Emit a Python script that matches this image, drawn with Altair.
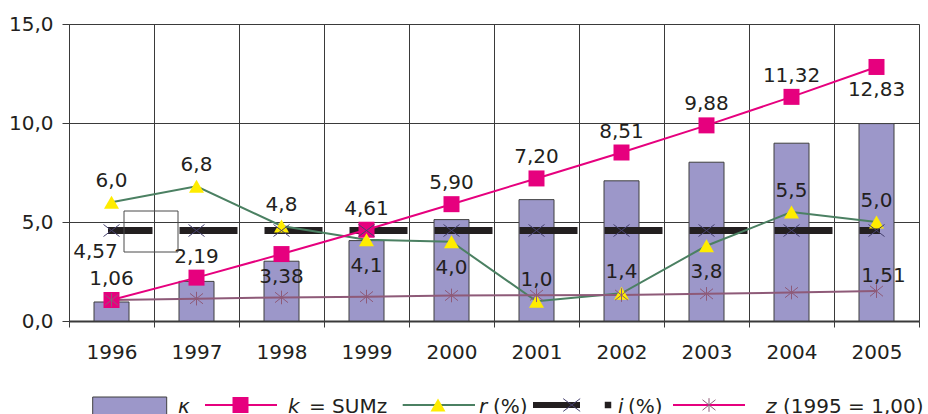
import altair as alt
import pandas as pd

# ---------------- data ----------------
years = [1996, 1997, 1998, 1999, 2000, 2001, 2002, 2003, 2004, 2005]
kappa = [0.96, 2.00, 3.02, 4.06, 5.12, 6.13, 7.08, 8.02, 8.98, 9.97]
k_sum = [1.06, 2.19, 3.38, 4.61, 5.90, 7.20, 8.51, 9.88, 11.32, 12.83]
r_pct = [6.0, 6.8, 4.8, 4.1, 4.0, 1.0, 1.4, 3.8, 5.5, 5.0]
i_pct = [4.57, 4.57, 4.57, 4.57, 4.57, 4.57, 4.57, 4.57, 4.57, 4.57]
z_idx = [1.06, 1.13, 1.19, 1.23, 1.29, 1.30, 1.31, 1.37, 1.44, 1.51]
k_side = ["above", "above", "below", "above", "above", "above", "above", "above", "above", "below"]
r_side = ["above", "above", "above", "below", "below", "above", "above", "below", "above", "above"]
y_ticks = [0, 5, 10, 15]

df = pd.DataFrame({
    "year": years, "kappa": kappa, "k": k_sum, "r": r_pct,
    "i": i_pct, "z": z_idx, "k_side": k_side, "r_side": r_side,
})

# ---------------- style ----------------
FONT = "DejaVu Sans"
FS = 20
TXT = "#231f20"
GRID = "#3a3a3a"
BG = "#c8c5e2"
BAR = "#9c97c9"
MAGENTA = "#e6007e"
GREEN = "#4b8062"
YELLOW = "#ffec00"
MAUVE = "#8e5a78"
XCOL = "#45406e"
BLACK = "#231f20"
X_PATH = "M-1,-0.75L1,0.75M-1,0.75L1,-0.75"
STAR_PATH = "M-1,-0.8L1,0.8M-1,0.8L1,-0.8M0,-1.05L0,1.05"

x_enc = alt.X(
    "year:O",
    scale=alt.Scale(paddingInner=0, paddingOuter=0),
    axis=alt.Axis(
        title=None, labelAngle=0, tickBand="extent", grid=True,
        gridColor=GRID, gridOpacity=1, gridWidth=1,
        domainColor=GRID, domainWidth=2, tickColor=GRID, tickSize=6,
        labelFont=FONT, labelFontSize=FS, labelColor=TXT, labelPadding=15,
    ),
)


def y_enc(field):
    return alt.Y(
        f"{field}:Q",
        scale=alt.Scale(domain=[0, 15], nice=False, zero=True),
        axis=alt.Axis(
            title=None, values=y_ticks, grid=True, gridColor=GRID, gridOpacity=1,
            domainColor=GRID, domainWidth=1, tickColor=GRID, tickSize=7,
            labelFont=FONT, labelFontSize=FS, labelColor=TXT, labelPadding=9,
            labelExpr="replace(format(datum.value, '.1f'), '.', ',')",
        ),
    )


base = alt.Chart(df)

bars = base.mark_bar(size=35, fill=BAR, stroke="#3f3f3f", strokeWidth=1).encode(
    x=x_enc, y=y_enc("kappa"))

i_line = base.mark_line(
    color=BLACK, strokeWidth=7, strokeDash=[51, 34], strokeDashOffset=13.5,
    strokeCap="square").encode(x=x_enc, y=y_enc("i"))

r_line = base.mark_line(color=GREEN, strokeWidth=2).encode(x=x_enc, y=y_enc("r"))
z_line = base.mark_line(color=MAUVE, strokeWidth=2).encode(x=x_enc, y=y_enc("z"))
k_line = base.mark_line(color=MAGENTA, strokeWidth=2).encode(x=x_enc, y=y_enc("k"))

k_pts = base.mark_point(shape="square", filled=True, size=256, color=MAGENTA,
                        opacity=1).encode(x=x_enc, y=y_enc("k"))
r_pts = base.mark_point(shape="triangle-up", filled=True, size=225, color=YELLOW,
                        opacity=1).encode(x=x_enc, y=y_enc("r"))
i_pts = base.mark_point(shape=X_PATH, filled=False, size=256, stroke=XCOL,
                        strokeWidth=1, opacity=1).encode(x=x_enc, y=y_enc("i"))
z_pts = base.mark_point(shape=STAR_PATH, filled=False, size=169, stroke=MAUVE,
                        strokeWidth=1, opacity=1).encode(x=x_enc, y=y_enc("z"))

txt_kw = dict(font=FONT, fontSize=FS, color=TXT, baseline="alphabetic", align="center")

labels = base.transform_calculate(
    k_lab="replace(format(datum.k, '.2f'), '.', ',')",
    r_lab="replace(format(datum.r, '.1f'), '.', ',')",
    i_lab="replace(format(datum.i, '.2f'), '.', ',')",
    z_lab="replace(format(datum.z, '.2f'), '.', ',')",
)

k_above = labels.transform_filter("datum.k_side == 'above'").mark_text(dy=-15, **txt_kw).encode(
    x=x_enc, y=y_enc("k"), text="k_lab:N")
k_below = labels.transform_filter("datum.k_side == 'below'").mark_text(dy=29, **txt_kw).encode(
    x=x_enc, y=y_enc("k"), text="k_lab:N")
r_above = labels.transform_filter("datum.r_side == 'above'").mark_text(dy=-15, **txt_kw).encode(
    x=x_enc, y=y_enc("r"), text="r_lab:N")
r_below = labels.transform_filter("datum.r_side == 'below'").mark_text(dy=32, **txt_kw).encode(
    x=x_enc, y=y_enc("r"), text="r_lab:N")
i_lab = labels.transform_filter("datum.year == 1996").mark_text(dx=-16, dy=27, **txt_kw).encode(
    x=x_enc, y=y_enc("i"), text="i_lab:N")
z_lab = labels.transform_filter("datum.year == 2005").mark_text(dx=7, dy=-9, **txt_kw).encode(
    x=x_enc, y=y_enc("z"), text="z_lab:N")

# stray empty text box of the original figure
one = alt.Chart(pd.DataFrame({"o": [0]}))
box = one.mark_rect(fill="transparent", stroke="#4a4a4a", strokeWidth=1).encode(
    x=alt.value(55), x2=alt.value(109), y=alt.value(187), y2=alt.value(228))

# ---------------- legend (below the plot) ----------------
LY = 381      # line / marker centre row
TY = 388.5    # text baseline
leg = []
leg.append(one.mark_rect(fill=BAR, stroke="#3f3f3f", strokeWidth=1).encode(
    x=alt.value(23.7), x2=alt.value(97.7), y=alt.value(373), y2=alt.value(400)))


def leg_text(x, s, italic=False):
    kw = dict(font=FONT, fontSize=FS, color=TXT, baseline="alphabetic", align="left")
    if italic:
        kw["fontStyle"] = "italic"
    return one.mark_text(**kw).encode(x=alt.value(x), y=alt.value(TY), text=alt.value(s))


def leg_line(x1, x2, color, w):
    return one.mark_rule(color=color, strokeWidth=w).encode(
        x=alt.value(x1), x2=alt.value(x2), y=alt.value(LY))


def leg_pt(x, **kw):
    return one.mark_point(opacity=1, **kw).encode(x=alt.value(x), y=alt.value(LY))


leg += [
    leg_text(109, "κ", True),
    leg_line(136, 208, MAGENTA, 2),
    leg_pt(171.5, shape="square", filled=True, size=256, color=MAGENTA),
    leg_text(219, "k", True),
    leg_text(240, "= SUMz"),
    leg_line(333.7, 406, GREEN, 2),
    leg_pt(369, shape="triangle-up", filled=True, size=225, color=YELLOW),
    leg_text(410, "r", True),
    leg_text(424, "(%)"),
    leg_line(464, 511, BLACK, 6),
    leg_pt(502.7, shape=X_PATH, filled=False, size=289, stroke=XCOL, strokeWidth=1),
    leg_pt(539, shape="square", filled=True, size=42, color=BLACK),
    leg_text(549, "i", True),
    leg_text(559, "(%)"),
    leg_line(604, 676, MAGENTA, 2),
    leg_pt(640, shape=STAR_PATH, filled=False, size=169, stroke=MAUVE, strokeWidth=1),
    leg_text(697, "z", True),
    leg_text(714, "(1995 = 1,00)"),
]

chart = alt.layer(
    bars, i_line, r_line, z_line, k_line, k_pts, r_pts, i_pts, z_pts,
    k_above, k_below, r_above, r_below, i_lab, z_lab, box, *leg,
).properties(
    width=850, height=297,
    autosize=alt.AutoSizeParams(type="none"),
    padding={"left": 69, "top": 24, "right": 9, "bottom": 93},
).configure_view(
    fill=BG, stroke=GRID, strokeWidth=1,
).configure(background="white")

chart.save("out.html", embed_options={"renderer": "svg", "actions": False})
